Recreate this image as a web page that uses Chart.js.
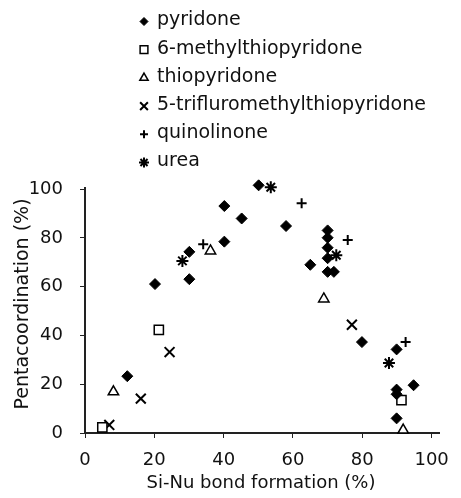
<!DOCTYPE html>
<html><head><meta charset="utf-8">
<script src="https://cdn.jsdelivr.net/npm/chart.js@4/dist/chart.umd.min.js"></script>
<style>html,body{margin:0;padding:0;background:#fff}#wrap{width:461px;height:498px}</style>
</head><body><div id="wrap"><canvas id="c" width="461" height="498"></canvas></div>
<script>
const xTitle = 'Si-Nu bond formation (%)';
const yTitle = 'Pentacoordination (%)';
const xTickValues = [0, 20, 40, 60, 80, 100];
const yTickValues = [0, 20, 40, 60, 80, 100];
const seriesNames = ['pyridone', '6-methylthiopyridone', 'thiopyridone', '5-trifluromethylthiopyridone', 'quinolinone', 'urea'];

const pyridoneX = [12.2, 20.2, 30.1, 30.1, 40.2, 40.2, 45.2, 50.1, 58.0, 65.0, 70.0, 70.0, 70.0, 70.0, 70.0, 71.8, 79.9, 89.9, 89.9, 89.9, 89.9, 94.8];
const pyridoneY = [23.3, 61.1, 74.3, 63.1, 93.1, 78.5, 88.0, 101.6, 84.9, 69.0, 83.1, 80.1, 76.0, 71.7, 66.1, 66.1, 37.3, 34.3, 17.8, 15.9, 6.0, 19.6];
const methylX = [5.0, 21.3, 91.3];
const methylY = [2.3, 42.3, 13.5];
const thioX = [8.2, 36.2, 68.9, 91.8];
const thioY = [16.9, 74.7, 55.0, 1.2];
const trifluoroX = [7.0, 16.1, 24.4, 77.0];
const trifluoroY = [3.3, 14.1, 33.2, 44.4];
const quinX = [34.1, 62.5, 75.8, 92.5];
const quinY = [77.4, 94.2, 79.2, 37.3];
const ureaX = [28.1, 53.6, 72.5, 87.7];
const ureaY = [70.6, 100.8, 72.9, 28.7];

const xs = [pyridoneX, methylX, thioX, trifluoroX, quinX, ureaX];
const ys = [pyridoneY, methylY, thioY, trifluoroY, quinY, ureaY];
const styles = [
  {pointStyle: 'rectRot', radius: 5.5, bg: '#000', bw: 1, lr: 4},
  {pointStyle: 'rect', radius: 6.5, bg: '#fff', bw: 1.5, lr: 5.5},
  {pointStyle: 'triangle', radius: 6, bg: '#fff', bw: 1.5, lr: 4.8},
  {pointStyle: 'crossRot', radius: 7, bg: '#000', bw: 2, lr: 5.5},
  {pointStyle: 'cross', radius: 5, bg: '#000', bw: 2, lr: 4},
  {pointStyle: 'star', radius: 6, bg: '#000', bw: 2, lr: 5}
];

const datasets = seriesNames.map((name, i) => ({
  label: name,
  data: xs[i].map((x, j) => ({x: x, y: ys[i][j]})),
  pointStyle: styles[i].pointStyle,
  pointRadius: styles[i].radius,
  pointHoverRadius: styles[i].radius,
  backgroundColor: styles[i].bg,
  borderColor: '#000',
  pointBorderWidth: styles[i].bw,
  showLine: false,
  clip: false
}));

const FONT = 'DejaVu Sans';
const TEXT = '#111';

const overlay = {
  id: 'overlay',
  afterDraw(chart) {
    const ctx = chart.ctx;
    ctx.save();
    // legend
    ctx.font = '19px "' + FONT + '"';
    ctx.textBaseline = 'middle';
    ctx.textAlign = 'left';
    seriesNames.forEach((name, i) => {
      const y = 20.5 + i * 28.2;
      ctx.fillStyle = styles[i].bg;
      ctx.strokeStyle = '#000';
      ctx.lineWidth = styles[i].bw;
      Chart.helpers.drawPoint(ctx, {pointStyle: styles[i].pointStyle, radius: styles[i].lr, rotation: 0, borderWidth: styles[i].bw}, 144, y + 1);
      ctx.fillStyle = TEXT;
      ctx.fillText(name, 157, y);
    });
    // axis titles
    ctx.font = '18px "' + FONT + '"';
    ctx.textAlign = 'center';
    ctx.fillText(xTitle, 261, 483);
    ctx.translate(23, 304);
    ctx.rotate(-Math.PI / 2);
    ctx.font = '19px "' + FONT + '"';
    ctx.fillText(yTitle, 0, 0);
    ctx.restore();
  }
};

new Chart(document.getElementById('c'), {
  type: 'scatter',
  data: {datasets: datasets},
  options: {
    responsive: false,
    animation: false,
    devicePixelRatio: 1,
    layout: {padding: {top: 188, right: 9, bottom: 0, left: 0}},
    plugins: {legend: {display: false}, tooltip: {enabled: false}},
    scales: {
      x: {
        type: 'linear', min: 0, max: 102.4,
        afterBuildTicks: s => { s.ticks = xTickValues.map(v => ({value: v})); },
        afterFit: s => { s.height = 65; },
        ticks: {font: {family: FONT, size: 18}, color: TEXT, padding: 12, maxRotation: 0, autoSkip: false},
        grid: {drawOnChartArea: false, drawTicks: true, tickLength: 5, color: '#222', lineWidth: 1},
        border: {color: '#222', width: 2},
        title: {display: false}
      },
      y: {
        type: 'linear', min: 0, max: 100.5,
        afterBuildTicks: s => { s.ticks = yTickValues.map(v => ({value: v})); },
        afterFit: s => { s.width = 85; },
        ticks: {font: {family: FONT, size: 18}, color: TEXT, padding: 17, autoSkip: false},
        grid: {drawOnChartArea: false, drawTicks: true, tickLength: 5, color: '#222', lineWidth: 1},
        border: {color: '#222', width: 2},
        title: {display: false}
      }
    }
  },
  plugins: [overlay]
});
</script>
</body></html>
